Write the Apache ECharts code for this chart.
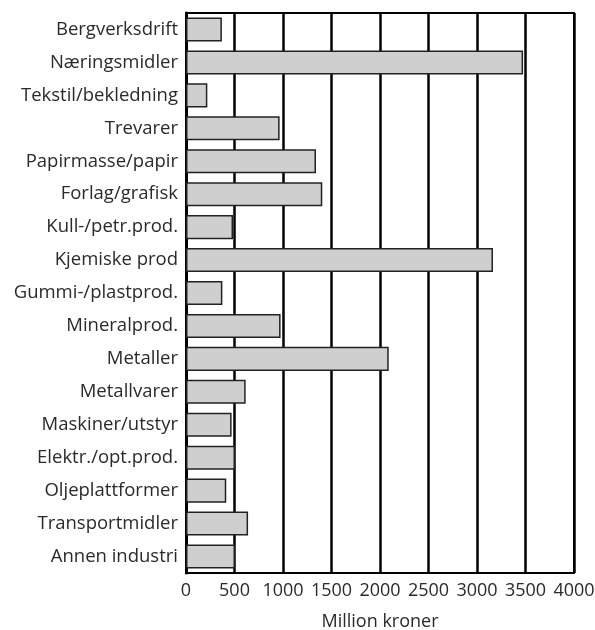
<!DOCTYPE html>
<html>
<head>
<meta charset="utf-8">
<script src="https://cdn.jsdelivr.net/npm/echarts@6/dist/echarts.min.js"></script>
<style>
html,body{margin:0;padding:0;background:#fff;}
#chart{width:595px;height:630px;}
</style>
</head>
<body>
<div id="chart"></div>
<script>
var categories = ['Bergverksdrift','Næringsmidler','Tekstil/bekledning','Trevarer','Papirmasse/papir',
	'Forlag/grafisk','Kull-/petr.prod.','Kjemiske prod','Gummi-/plastprod.','Mineralprod.',
	'Metaller','Metallvarer','Maskiner/utstyr','Elektr./opt.prod.','Oljeplattformer',
	'Transportmidler','Annen industri'];
var values = [370,3475,220,965,1340,1405,485,3165,375,975,2090,615,470,505,415,640,505];
var xTicks = [0,500,1000,1500,2000,2500,3000,3500,4000];

var font = 'Open Sans';
var myChart = echarts.init(document.getElementById('chart'));
var option = {
	animation:false,
	backgroundColor:'#fff',
	grid:{
		left:186, right:21, top:13, bottom:57,
		outerBoundsMode:'none',
		containLabel:false,
		show:true, borderColor:'#000', borderWidth:2
	},
	xAxis:{
		type:'value',
		min:xTicks[0], max:xTicks[xTicks.length-1], interval:500,
		name:'Million kroner',
		nameLocation:'middle',
		nameGap:40,
		nameTextStyle:{fontFamily:font,fontSize:18,color:'#2a2a2a'},
		axisLine:{show:true,lineStyle:{color:'#000',width:2}},
		axisTick:{show:false},
		axisLabel:{fontFamily:font,fontSize:18,color:'#2a2a2a',margin:9,
			formatter:function(v){return String(v);}},
		splitLine:{show:true,lineStyle:{color:'#000',width:2.5}}
	},
	yAxis:{
		type:'category',
		data:categories,
		inverse:true,
		axisLine:{show:true,lineStyle:{color:'#000',width:3}},
		axisTick:{show:false},
		axisLabel:{fontFamily:font,fontSize:18.5,color:'#2a2a2a',margin:8},
		splitLine:{show:false}
	},
	series:[{
		type:'bar',
		data:values,
		barCategoryGap:'27%',
		itemStyle:{color:'#cfcfcf',borderColor:'#222',borderWidth:1.5}
	}]
};
myChart.setOption(option);
</script>
</body>
</html>
